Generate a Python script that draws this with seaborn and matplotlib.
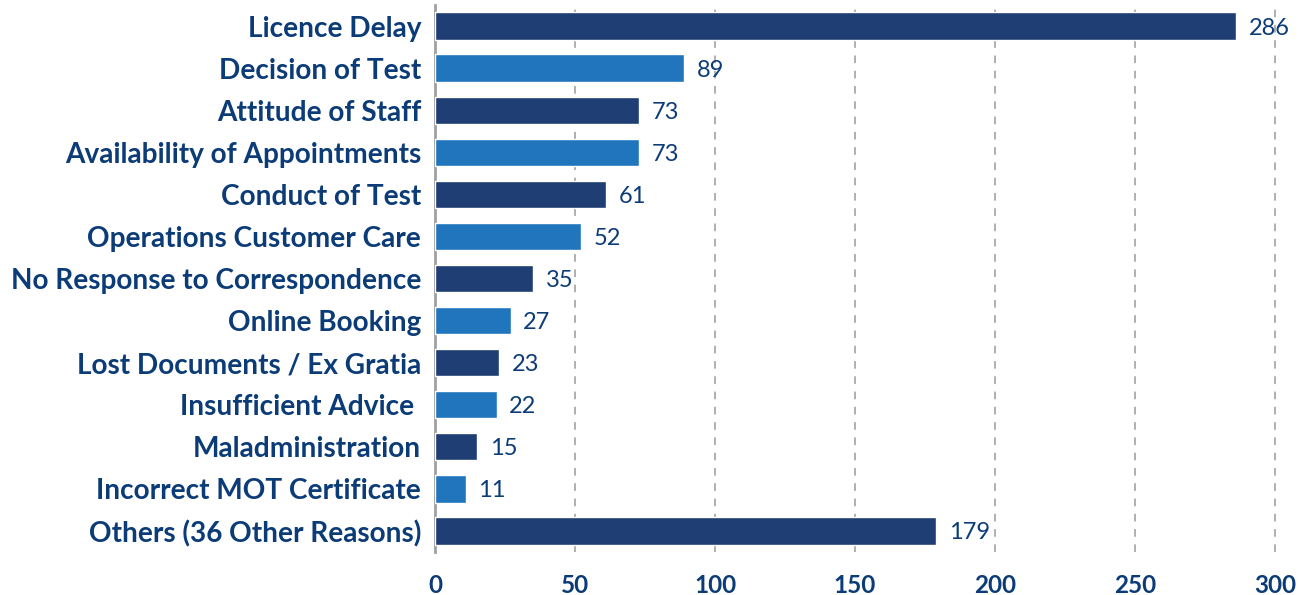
import numpy as np
import pandas as pd
import matplotlib
matplotlib.use('Agg')
import matplotlib.pyplot as plt
import seaborn as sns

# --- data ---
reasons = ['Licence Delay', 'Decision of Test', 'Attitude of Staff',
           'Availability of Appointments', 'Conduct of Test',
           'Operations Customer Care', 'No Response to Correspondence',
           'Online Booking', 'Lost Documents / Ex Gratia',
           'Insufficient Advice ', 'Maladministration',
           'Incorrect MOT Certificate', 'Others (36 Other Reasons)']
counts = [286, 89, 73, 73, 61, 52, 35, 27, 23, 22, 15, 11, 179]
shade = ['dark', 'light', 'dark', 'light', 'dark', 'light', 'dark',
         'light', 'dark', 'light', 'dark', 'light', 'dark']
x_ticks = [0, 50, 100, 150, 200, 250, 300]

df = pd.DataFrame({'Reason': reasons, 'Count': counts, 'Shade': shade})

sns.set_style('white')
plt.rcParams['font.family'] = ['Lato', 'DejaVu Sans']
text_col = '#0c3c78'

fig = plt.figure(figsize=(13.05, 5.95), dpi=100)
ax = fig.add_axes([435 / 1305, 1 - 552 / 595, (1300 - 435) / 1305, (552 - 5) / 595])

sns.barplot(data=df, x='Count', y='Reason', hue='Shade',
            palette={'dark': '#1f3e73', 'light': '#2175bc'}, saturation=1,
            dodge=False, width=0.65, legend=False, ax=ax, zorder=3)

ax.set_xlim(0, (1300 - 435) / 2.8)
ax.set_ylim(12.5, -0.5)
ax.set_xticks(x_ticks)
ax.xaxis.grid(True, linestyle=(0, (5, 5)), color='#9a9a9a', linewidth=1.1, zorder=0)
ax.set_axisbelow(True)

for s in ['top', 'right', 'bottom']:
    ax.spines[s].set_visible(False)
ax.spines['left'].set_color('#a0a0a0')
ax.spines['left'].set_linewidth(2)

ax.tick_params(axis='both', length=0)
ax.tick_params(axis='y', pad=10)
ax.tick_params(axis='x', pad=16)
for lab in ax.get_yticklabels():
    lab.set_fontsize(20.2)
    lab.set_fontweight('bold')
    lab.set_color(text_col)
for lab in ax.get_xticklabels():
    lab.set_fontsize(17.5)
    lab.set_fontweight('bold')
    lab.set_color(text_col)

for i, v in enumerate(counts):
    ax.text(v + 4.5, i, str(v), va='center_baseline', ha='left', fontsize=17, color=text_col)

ax.set_xlabel('')
ax.set_ylabel('')

fig.savefig('out.png', dpi=100)
